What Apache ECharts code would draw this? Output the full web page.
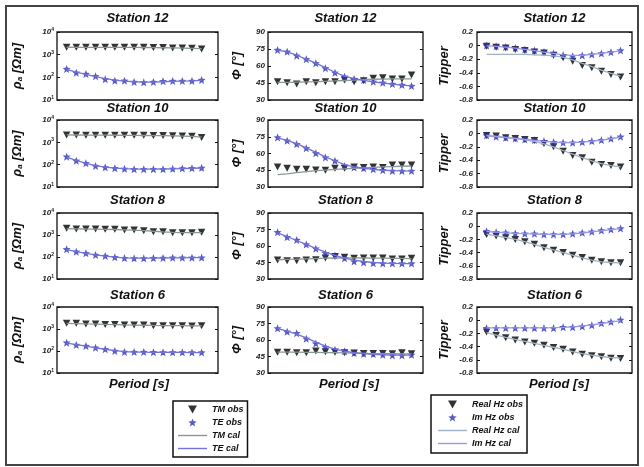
<!DOCTYPE html>
<html><head><meta charset="utf-8">
<script src="https://cdn.jsdelivr.net/npm/echarts@6/dist/echarts.min.js"></script>
<style>html,body{margin:0;padding:0;background:#fff}#c{width:644px;height:467px}</style>
</head><body><div id="c"></div>
<script>
// ---------------- data ----------------
const stations = ['Station 12', 'Station 10', 'Station 8', 'Station 6'];
const periodIndex = [1, 2, 3, 4, 5, 6, 7, 8, 9, 10, 11, 12, 13, 14, 15];
const rhoTicks = [10, 100, 1000, 10000];
const phaseTicks = [30, 45, 60, 75, 90];
const tipperTicks = [-0.8, -0.6, -0.4, -0.2, 0, 0.2];

// apparent resistivity (Ohm m), one row per station
const rhoTMobs = [
  [2110, 2110, 2110, 2110, 2110, 2110, 2110, 2110, 2110, 2050, 2050, 1950, 1950, 1900, 1800],
  [2150, 2150, 2100, 2100, 2100, 2100, 2050, 2050, 2050, 2000, 2000, 1950, 1900, 1850, 1650],
  [2020, 1875, 1875, 1875, 1820, 1820, 1690, 1690, 1570, 1410, 1410, 1270, 1270, 1270, 1330],
  [1815, 1815, 1690, 1690, 1600, 1600, 1520, 1520, 1520, 1415, 1415, 1415, 1415, 1370, 1415]
];
const rhoTEobs = [
  [233, 160, 140, 111, 82, 71, 71, 62, 60, 62, 67, 69, 69, 69, 76],
  [229, 150, 115, 87, 76, 69, 65, 63, 63, 63, 63, 65, 67, 69, 72],
  [224, 174, 148, 124, 112, 98, 89, 87, 87, 89, 91, 93, 93, 93, 94],
  [240, 187, 170, 142, 120, 100, 90, 90, 90, 88, 87, 87, 87, 85, 85]
];
const rhoTMcal = [
  [2120, 2115, 2110, 2105, 2100, 2095, 2090, 2080, 2070, 2050, 2020, 1990, 1950, 1900, 1850],
  [2150, 2130, 2110, 2100, 2090, 2080, 2060, 2040, 2020, 2000, 1980, 1950, 1900, 1830, 1720],
  [1950, 1900, 1870, 1850, 1820, 1780, 1720, 1660, 1580, 1480, 1400, 1330, 1290, 1280, 1290],
  [1800, 1760, 1710, 1670, 1620, 1580, 1540, 1510, 1480, 1450, 1430, 1420, 1410, 1400, 1400]
];
const rhoTEcal = [
  [225, 170, 135, 108, 88, 76, 68, 64, 62, 62, 64, 66, 68, 70, 73],
  [215, 155, 115, 90, 77, 70, 66, 64, 63, 63, 64, 65, 67, 69, 71],
  [215, 175, 145, 124, 110, 99, 92, 89, 88, 89, 90, 91, 92, 93, 94],
  [230, 195, 165, 140, 120, 104, 94, 90, 88, 87, 86, 86, 86, 85, 85]
];

// phase (degrees)
const phTMobs = [
  [46.1, 45.3, 44.1, 46.1, 45.3, 46.1, 46.1, 47.6, 46.1, 47.0, 49.1, 49.7, 48.5, 48.5, 52.0],
  [48.0, 46.8, 45.9, 45.9, 45.3, 45.0, 46.8, 46.8, 48.0, 47.4, 48.0, 47.4, 49.8, 49.8, 49.8],
  [47.2, 46.6, 46.6, 47.2, 47.5, 49.1, 50.4, 49.7, 48.8, 49.1, 49.1, 49.1, 48.2, 48.2, 48.8],
  [48.8, 48.8, 48.5, 48.5, 50.0, 49.4, 48.8, 48.5, 48.1, 47.8, 47.8, 47.8, 47.4, 48.5, 47.4]
];
const phTEobs = [
  [74.1, 72.6, 69.1, 65.9, 62.4, 58.0, 54.1, 50.6, 48.5, 47.6, 46.1, 45.3, 44.1, 43.2, 42.3],
  [74.4, 71.4, 68.4, 64.8, 60.3, 56.4, 53.4, 48.9, 47.4, 46.8, 45.9, 45.0, 44.4, 44.4, 44.4],
  [72.5, 68.1, 65.5, 61.4, 57.6, 53.5, 51.3, 48.8, 45.9, 45.0, 44.4, 44.1, 44.1, 44.1, 44.1],
  [70.6, 67.5, 66.2, 61.2, 56.8, 53.7, 51.2, 49.7, 48.1, 47.4, 47.2, 46.5, 45.9, 45.9, 46.5]
];
const phTMcal = [
  [45.5, 45.6, 45.8, 46.0, 46.2, 46.5, 46.8, 47.2, 47.6, 48.0, 48.3, 48.5, 48.6, 48.6, 48.6],
  [41.0, 41.8, 42.8, 43.8, 44.6, 45.2, 45.8, 46.3, 46.8, 47.2, 47.6, 48.0, 48.3, 48.6, 48.8],
  [47.5, 47.8, 48.0, 48.3, 48.6, 48.9, 49.1, 49.2, 49.2, 49.1, 49.0, 48.9, 48.8, 48.7, 48.6],
  [49.0, 49.0, 48.9, 48.8, 48.7, 48.6, 48.5, 48.3, 48.1, 47.9, 47.7, 47.6, 47.5, 47.4, 47.4]
];
const phTEcal = [
  [74.0, 72.5, 69.5, 66.0, 62.5, 58.5, 54.5, 51.0, 48.8, 47.3, 46.0, 45.0, 44.0, 43.2, 42.5],
  [74.0, 71.8, 68.8, 65.0, 61.0, 57.0, 53.5, 50.0, 48.0, 46.8, 45.8, 45.0, 44.6, 44.4, 44.3],
  [72.0, 68.5, 65.0, 61.5, 57.8, 54.5, 51.5, 49.0, 47.2, 45.9, 45.0, 44.5, 44.2, 44.0, 44.0],
  [70.5, 68.0, 65.3, 62.0, 58.0, 54.5, 51.8, 49.8, 48.4, 47.6, 47.0, 46.6, 46.3, 46.2, 46.2]
];

// tipper
const tipReObs = [
  [-0.01, -0.024, -0.034, -0.059, -0.073, -0.093, -0.107, -0.141, -0.18, -0.229, -0.293, -0.327, -0.376, -0.424, -0.463],
  [-0.03, -0.04, -0.065, -0.075, -0.09, -0.105, -0.15, -0.2, -0.265, -0.33, -0.365, -0.43, -0.465, -0.48, -0.5],
  [-0.125, -0.15, -0.175, -0.2, -0.235, -0.275, -0.325, -0.365, -0.4, -0.44, -0.475, -0.515, -0.54, -0.555, -0.555],
  [-0.18, -0.23, -0.265, -0.3, -0.33, -0.35, -0.38, -0.415, -0.44, -0.48, -0.515, -0.54, -0.555, -0.575, -0.58]
];
const tipImObs = [
  [0, -0.01, -0.02, -0.034, -0.059, -0.073, -0.093, -0.117, -0.141, -0.156, -0.146, -0.132, -0.117, -0.098, -0.073],
  [-0.03, -0.05, -0.065, -0.075, -0.09, -0.1, -0.115, -0.13, -0.14, -0.14, -0.13, -0.115, -0.1, -0.08, -0.05],
  [-0.075, -0.09, -0.1, -0.11, -0.115, -0.115, -0.125, -0.125, -0.125, -0.115, -0.1, -0.085, -0.065, -0.05, -0.035],
  [-0.12, -0.12, -0.12, -0.12, -0.12, -0.12, -0.12, -0.12, -0.105, -0.105, -0.095, -0.075, -0.045, -0.025, 0.005]
];
const tipReCal = [
  [-0.13, -0.13, -0.13, -0.13, -0.13, -0.135, -0.14, -0.15, -0.17, -0.21, -0.26, -0.31, -0.36, -0.41, -0.45],
  [-0.03, -0.045, -0.06, -0.075, -0.095, -0.12, -0.155, -0.2, -0.255, -0.31, -0.36, -0.41, -0.45, -0.48, -0.5],
  [-0.12, -0.145, -0.17, -0.2, -0.235, -0.275, -0.32, -0.36, -0.4, -0.44, -0.48, -0.515, -0.54, -0.55, -0.555],
  [-0.19, -0.225, -0.26, -0.29, -0.32, -0.35, -0.38, -0.41, -0.44, -0.475, -0.505, -0.53, -0.55, -0.565, -0.575]
];
const tipImCal = [
  [-0.005, -0.012, -0.022, -0.036, -0.055, -0.075, -0.095, -0.115, -0.135, -0.145, -0.142, -0.13, -0.115, -0.097, -0.078],
  [-0.035, -0.05, -0.063, -0.077, -0.09, -0.103, -0.117, -0.13, -0.138, -0.138, -0.13, -0.117, -0.1, -0.08, -0.055],
  [-0.08, -0.09, -0.1, -0.108, -0.114, -0.118, -0.122, -0.124, -0.122, -0.115, -0.103, -0.087, -0.07, -0.053, -0.038],
  [-0.115, -0.115, -0.115, -0.115, -0.115, -0.115, -0.115, -0.112, -0.108, -0.1, -0.088, -0.07, -0.05, -0.028, -0.005]
];

// ---------------- chart ----------------
const FONT = '"Liberation Sans", Arial, sans-serif';
const TRI = 'path://M0,0 L10,0 L5,9 Z';
const STAR = 'path://M50,0 L63,33 L99,35 L71,58 L81,94 L50,74 L19,94 L29,58 L1,35 L37,33 Z';
const LINEICON = 'path://M0,0 L29,0 L29,1.4 L0,1.4 Z';
const C = {
  tmObs: '#000000', teObs: '#2c33b4', tmCal: '#8a9797', teCal: '#7472dc',
  reCal: '#9fb4c4', imCal: '#9a98ea'
};
const colLeft = [57, 268, 477];
const colWidth = [161, 155, 155];
const colXMax = [16.7, 16.2, 16.2];
const rowTop = [32, 120, 213, 307];
const rowH = [68, 67, 66, 66];
const titleY = [18, 108.5, 200, 295];

const pair = arr => arr.map((v, i) => [periodIndex[i], v]);
const labelStyle = { fontSize: 8, fontWeight: 'bold', fontStyle: 'italic', fontFamily: FONT, color: '#222' };

const grid = [], xAxis = [], yAxis = [], series = [], graphic = [];

for (let r = 0; r < 4; r++) {
  for (let c = 0; c < 3; c++) {
    const g = r * 3 + c;
    grid.push({
      left: colLeft[c], top: rowTop[r], width: colWidth[c], height: rowH[r],
      show: true, borderColor: '#111', borderWidth: 1.3, backgroundColor: '#fff'
    });
    xAxis.push({
      type: 'value', gridIndex: g, min: 0, max: colXMax[c],
      axisLine: { show: false }, axisTick: { show: false }, axisLabel: { show: false }, splitLine: { show: false }
    });
    let yBase;
    if (c === 0) {
      yBase = {
        type: 'log', logBase: 10, min: rhoTicks[0], max: rhoTicks[rhoTicks.length - 1],
        axisLabel: {
          margin: 3,
          formatter: v => '{b|10}{s|' + Math.round(Math.log10(v)) + '}',
          rich: {
            b: { fontSize: 8, fontWeight: 'bold', fontStyle: 'italic', fontFamily: FONT, color: '#222' },
            s: { fontSize: 5, fontWeight: 'bold', fontFamily: FONT, color: '#222', verticalAlign: 'top', padding: [0, 0, 5, 0] }
          }
        },
        name: '{r|ρ}{s|a}{r| [Ωm]}', nameLocation: 'middle', nameGap: 33, nameRotate: 90,
        nameTextStyle: {
          rich: {
            r: { fontSize: 13, fontWeight: 'bold', fontStyle: 'italic', fontFamily: FONT, color: '#111' },
            s: { fontSize: 8, fontWeight: 'bold', fontStyle: 'italic', fontFamily: FONT, color: '#111', padding: [6, 0, 0, 0] }
          }
        }
      };
    } else if (c === 1) {
      yBase = {
        type: 'value', min: phaseTicks[0], max: phaseTicks[phaseTicks.length - 1], interval: phaseTicks[1] - phaseTicks[0],
        axisLabel: Object.assign({ margin: 3 }, labelStyle),
        name: 'Φ [°]', nameLocation: 'middle', nameGap: 24, nameRotate: 90,
        nameTextStyle: { fontSize: 13, fontWeight: 'bold', fontStyle: 'italic', fontFamily: FONT, color: '#111' }
      };
    } else {
      yBase = {
        type: 'value', min: tipperTicks[0], max: tipperTicks[tipperTicks.length - 1], interval: 0.2,
        axisLabel: Object.assign({ margin: 4, formatter: v => Math.abs(v) < 1e-9 ? '0' : v.toFixed(1) }, labelStyle),
        name: 'Tipper', nameLocation: 'middle', nameGap: 26, nameRotate: 90,
        nameTextStyle: { fontSize: 13, fontWeight: 'bold', fontStyle: 'italic', fontFamily: FONT, color: '#111' }
      };
    }
    yAxis.push(Object.assign({}, yBase, {
      gridIndex: g, position: 'left',
      axisLine: { show: false }, splitLine: { show: false },
      axisTick: { show: true, inside: true, length: 3, lineStyle: { color: '#111' } }
    }));
    yAxis.push({
      type: yBase.type, logBase: 10, min: yBase.min, max: yBase.max, interval: yBase.interval,
      gridIndex: g, position: 'right',
      axisLine: { show: false }, splitLine: { show: false }, axisLabel: { show: false },
      axisTick: { show: true, inside: true, length: 3, lineStyle: { color: '#111' } }
    });

    let a, b, ac, bc, names, calColors;
    if (c === 0) { a = rhoTMobs[r]; b = rhoTEobs[r]; ac = rhoTMcal[r]; bc = rhoTEcal[r]; names = ['TM obs', 'TE obs', 'TM cal', 'TE cal']; calColors = [C.tmCal, C.teCal]; }
    else if (c === 1) { a = phTMobs[r]; b = phTEobs[r]; ac = phTMcal[r]; bc = phTEcal[r]; names = ['TM obs', 'TE obs', 'TM cal', 'TE cal']; calColors = [C.tmCal, C.teCal]; }
    else { a = tipReObs[r]; b = tipImObs[r]; ac = tipReCal[r]; bc = tipImCal[r]; names = ['Real Hz obs', 'Im Hz obs', 'Real Hz cal', 'Im Hz cal']; calColors = [C.reCal, C.imCal]; }

    series.push({
      type: 'line', name: names[2], xAxisIndex: g, yAxisIndex: g * 2, data: pair(ac),
      symbol: 'none', lineStyle: { color: calColors[0], width: 1.3 }, itemStyle: { color: calColors[0] }, silent: true
    });
    series.push({
      type: 'line', name: names[3], xAxisIndex: g, yAxisIndex: g * 2, data: pair(bc),
      symbol: 'none', lineStyle: { color: calColors[1], width: 1.3 }, itemStyle: { color: calColors[1] }, silent: true
    });
    series.push({
      type: 'scatter', name: names[0], xAxisIndex: g, yAxisIndex: g * 2, data: pair(a),
      symbol: TRI, symbolSize: [7.5, 7], itemStyle: { color: C.tmObs }, silent: true
    });
    series.push({
      type: 'scatter', name: names[1], xAxisIndex: g, yAxisIndex: g * 2, data: pair(b),
      symbol: STAR, symbolSize: [8, 8], itemStyle: { color: C.teObs }, silent: true
    });

    graphic.push({
      type: 'text', x: colLeft[c] + colWidth[c] / 2, y: titleY[r],
      style: { text: stations[r], fontSize: 13, fontWeight: 'bold', fontStyle: 'italic', fontFamily: FONT, fill: '#111',
        align: 'center', verticalAlign: 'middle', textAlign: 'center', textVerticalAlign: 'middle' }
    });
  }
}
const periodX = [139, 349, 559];
periodX.forEach(x => graphic.push({
  type: 'text', x: x, y: 384,
  style: { text: 'Period [s]', fontSize: 13, fontWeight: 'bold', fontStyle: 'italic', fontFamily: FONT, fill: '#111',
    align: 'center', verticalAlign: 'middle', textAlign: 'center', textVerticalAlign: 'middle' }
}));
graphic.push({
  type: 'rect', shape: { x: 6, y: 6, width: 632, height: 459 },
  style: { fill: 'none', stroke: '#444', lineWidth: 2 }, z: 100, silent: true
});

const legendText = { fontSize: 9, fontWeight: 'bold', fontStyle: 'italic', fontFamily: FONT, color: '#111' };
const legend = [
  {
    data: [{ name: 'TM obs', icon: TRI }, { name: 'TE obs', icon: STAR },
           { name: 'TM cal', icon: LINEICON }, { name: 'TE cal', icon: LINEICON }],
    orient: 'vertical', left: 173, top: 401, padding: [4, 4, 4, 5],
    itemWidth: 29, itemHeight: 8, itemGap: 4, borderColor: '#111', borderWidth: 1.5,
    textStyle: legendText, selectedMode: false, backgroundColor: '#fff'
  },
  {
    data: [{ name: 'Real Hz obs', icon: TRI }, { name: 'Im Hz obs', icon: STAR },
           { name: 'Real Hz cal', icon: LINEICON }, { name: 'Im Hz cal', icon: LINEICON }],
    orient: 'vertical', left: 431, top: 395, padding: [5, 4, 5, 7],
    itemWidth: 29, itemHeight: 8, itemGap: 4, borderColor: '#111', borderWidth: 1.5,
    textStyle: legendText, selectedMode: false, backgroundColor: '#fff'
  }
];

const chart = echarts.init(document.getElementById('c'), null, { renderer: 'canvas' });
chart.setOption({
  animation: false,
  backgroundColor: '#fff',
  grid, xAxis, yAxis, series, legend, graphic
});
</script>
</body></html>
